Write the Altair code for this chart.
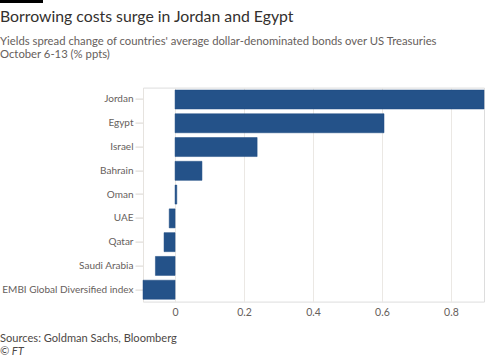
import altair as alt
import pandas as pd

countries = ["Jordan", "Egypt", "Israel", "Bahrain", "Oman", "UAE", "Qatar",
             "Saudi Arabia", "EMBI Global Diversified index"]
spread_change = [0.896, 0.606, 0.238, 0.078, 0.005, -0.017, -0.032, -0.057, -0.093]
x_ticks = [0, 0.2, 0.4, 0.6, 0.8]

title_text = "Borrowing costs surge in Jordan and Egypt"
subtitle_lines = ["Yields spread change of countries' average dollar-denominated bonds over US Treasuries",
                  "October 6-13 (% ppts)"]
source_line = "Sources: Goldman Sachs, Bloomberg"
credit_line = "\u00a9 FT"

df = pd.DataFrame({"country": countries, "change": spread_change})

FONT = "Lato"
W, H = 341, 214
PL, PT = 143, 87.6

bars = alt.Chart(df).mark_bar(color="#245289", stroke="#1d4a80", strokeWidth=0.5).encode(
    y=alt.Y("country:N", sort=countries,
            scale=alt.Scale(paddingInner=0.2, paddingOuter=0.1),
            axis=alt.Axis(title=None, labelFont=FONT, labelFontSize=10, labelColor="#66605c",
                          domainColor="#e6e3df", tickColor="#d9d5d0", tickSize=8,
                          labelPadding=2, grid=False, labelLimit=200)),
    x=alt.X("change:Q",
            scale=alt.Scale(domain=[-0.093, 0.896], nice=False, zero=False),
            axis=alt.Axis(title=None, values=x_ticks, format="~g", labelFont=FONT,
                          labelFontSize=10.5, labelColor="#66605c", ticks=False,
                          domain=False, gridColor="#ebe8e4", labelPadding=6)),
)


def text_layer(txt, y, size, color, style="normal"):
    d = pd.DataFrame({"t": [txt]})
    return alt.Chart(d).mark_text(align="left", baseline="alphabetic", font=FONT,
                                  fontSize=size, fontStyle=style, color=color).encode(
        text="t:N", x=alt.value(-PL), y=alt.value(y - PT))


layers = [bars,
          text_layer(title_text, 22, 15.8, "#33302e"),
          text_layer(subtitle_lines[0], 45, 11.3, "#66605c"),
          text_layer(subtitle_lines[1], 58, 11.3, "#66605c"),
          text_layer(source_line, 342, 11.1, "#4d4845"),
          text_layer(credit_line, 355, 11.1, "#4d4845", "italic")]

topbar = alt.Chart(pd.DataFrame({"t": [1]})).mark_rect(color="#000000").encode(
    x=alt.value(-PL), x2=alt.value(-PL + 43), y=alt.value(-PT), y2=alt.value(-PT + 3))
layers.append(topbar)

chart = alt.layer(*layers).properties(
    width=W, height=H,
    autosize=alt.AutoSizeParams(type="none"),
    padding={"left": PL, "top": PT, "right": 500 - PL - W, "bottom": 357 - PT - H},
).configure_view(stroke=None).configure(background="#ffffff")

chart.save("out.html", embed_options={"renderer": "svg", "actions": False})
